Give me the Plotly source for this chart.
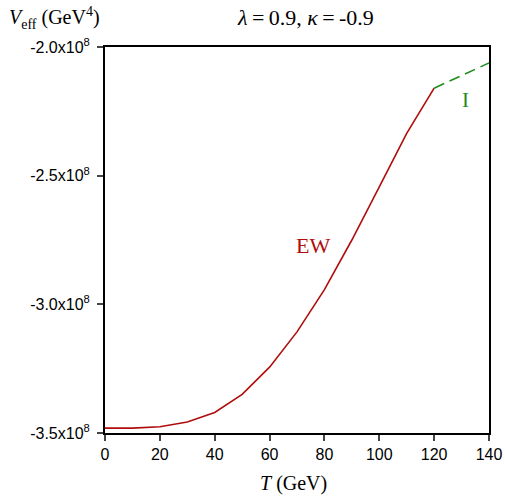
import plotly.graph_objects as go

# Data
t_ew = [0, 10, 20, 30, 40, 50, 60, 70, 80, 90, 100, 110, 120]
v_ew = [-3.481e8, -3.481e8, -3.476e8, -3.457e8, -3.420e8, -3.350e8, -3.244e8,
        -3.107e8, -2.943e8, -2.750e8, -2.544e8, -2.336e8, -2.160e8]
t_i = [120, 140]
v_i = [-2.160e8, -2.062e8]

x_ticks = [0, 20, 40, 60, 80, 100, 120, 140]
y_ticks = [-3.5e8, -3.0e8, -2.5e8, -2.0e8]
y_ticktext = ["-3.5x10<sup>8</sup>", "-3.0x10<sup>8</sup>", "-2.5x10<sup>8</sup>", "-2.0x10<sup>8</sup>"]

RED = "#b00d0d"
GREEN = "#1e8c1e"
SERIF = "Liberation Serif, DejaVu Serif, serif"
SANS = "Liberation Sans, Arial, sans-serif"

W, H = 506, 498
L, R, T, B = 105, 489, 47, 433
PW, PH = R - L, B - T

fig = go.Figure()
fig.add_trace(go.Scatter(x=t_ew, y=v_ew, mode="lines",
                         line=dict(color=RED, width=1.6), showlegend=False))
fig.add_trace(go.Scatter(x=t_i, y=v_i, mode="lines",
                         line=dict(color=GREEN, width=1.6, dash="11px,6px"), showlegend=False))

fig.add_annotation(x=76, y=-2.77e8, text="EW", showarrow=False,
                   font=dict(family=SERIF, size=22, color=RED))
fig.add_annotation(x=131.5, y=-2.205e8, text="I", showarrow=False,
                   font=dict(family=SERIF, size=21, color=GREEN))

fig.update_layout(
    width=W, height=H,
    margin=dict(l=L, r=W - R, t=T, b=H - B, autoexpand=False),
    paper_bgcolor="white", plot_bgcolor="white",
    xaxis=dict(range=[0, 140], tickvals=x_ticks, ticks="outside", ticklen=6,
               tickwidth=1.5, tickcolor="#444", showline=True, linecolor="black",
               linewidth=2, mirror=True, showgrid=False, zeroline=False,
               ticklabeloverflow="allow", automargin=False,
               tickfont=dict(family=SANS, size=16, color="black")),
    yaxis=dict(range=[-3.5e8, -2.0e8], tickvals=y_ticks, ticktext=y_ticktext,
               ticks="outside", ticklen=6, tickwidth=1.5, tickcolor="#444",
               showline=True, linecolor="black", linewidth=2, mirror=True,
               showgrid=False, zeroline=False, automargin=False,
               ticklabelstandoff=4,
               tickfont=dict(family=SANS, size=16, color="black")),
)

fig.add_annotation(xref="paper", yref="paper", x=(305 - 105) / PW, y=1 + (47 - 18) / PH,
                   text="<i>λ</i>\u2009=\u20090.9, <i>κ</i>\u2009=\u2009-0.9", showarrow=False,
                   xanchor="center", yanchor="middle",
                   font=dict(family=SERIF, size=22, color="black"))
fig.add_annotation(xref="paper", yref="paper", x=(293 - 105) / PW, y=-(483 - 433) / PH,
                   text="<i>T</i> (GeV)", showarrow=False, xanchor="center", yanchor="middle",
                   font=dict(family=SERIF, size=20, color="black"))
fig.add_annotation(xref="paper", yref="paper", x=-(105 - 7) / PW, y=1 + (47 - 18) / PH,
                   text="<i>V</i><sub>eff</sub> (GeV<sup>4</sup>)", showarrow=False,
                   xanchor="left", yanchor="middle",
                   font=dict(family=SERIF, size=20, color="black"))

fig.write_html("out.html", config={"displayModeBar": False},
               post_script="document.body.style.margin='0';document.body.style.overflow='hidden';")
